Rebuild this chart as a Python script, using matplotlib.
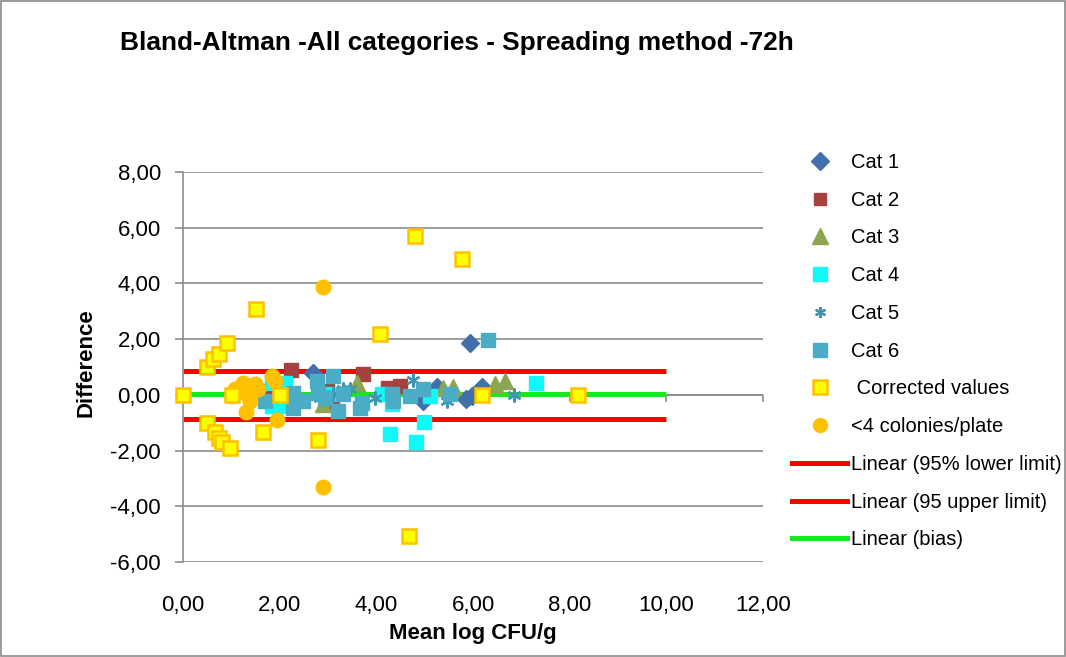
import matplotlib
matplotlib.use("Agg")
import matplotlib.pyplot as plt
import matplotlib.patches as patches
from matplotlib.lines import Line2D

plt.rcParams['font.family'] = ['Liberation Sans', 'DejaVu Sans']

# --- data ---
cat1_x = [2.69, 4.97, 5.26, 5.86, 5.98, 5.94, 6.19]
cat1_y = [0.79, -0.22, 0.29, -0.14, -0.04, 1.87, 0.29]

cat2_x = [1.74, 2.24, 2.98, 3.08, 3.73, 4.24, 4.49]
cat2_y = [0.14, 0.90, 0.14, -0.32, 0.76, 0.25, 0.32]

cat3_x = [2.90, 3.60, 5.38, 5.59, 6.46, 6.67]
cat3_y = [-0.32, 0.43, 0.25, 0.29, 0.40, 0.50]

cat4_x = [1.84, 2.11, 1.84, 2.11, 2.22, 3.11, 4.12, 4.33, 5.11, 4.29, 4.82, 4.99, 7.31]
cat4_y = [0.43, 0.43, -0.40, -0.40, -0.04, 0.04, 0.04, -0.32, -0.04, -1.40, -1.69, -0.97, 0.43]

cat5_x = [2.26, 2.84, 3.10, 3.31, 3.45, 3.98, 4.76, 5.47, 6.85]
cat5_y = [0.04, -0.10, 0.04, 0.22, 0.22, -0.11, 0.54, -0.22, 0.00]

cat6_x = [1.70, 2.28, 2.28, 2.48, 2.77, 2.80, 3.11, 2.94, 3.31, 3.21, 3.71, 3.66,
          4.33, 4.35, 4.70, 4.97, 5.53, 6.31]
cat6_y = [-0.22, 0.07, -0.47, -0.22, 0.50, 0.07, 0.68, -0.11, 0.04, -0.58, -0.29, -0.47,
          0.04, -0.22, -0.04, 0.22, 0.04, 1.98]

corr_x = [0.00, 0.50, 0.62, 0.75, 0.91, 1.51, 0.50, 0.66, 0.75, 0.81, 0.97, 1.01,
          1.65, 2.00, 2.80, 4.08, 4.80, 5.78, 4.68, 6.19, 8.18]
corr_y = [0.00, 1.00, 1.29, 1.47, 1.87, 3.09, -1.00, -1.33, -1.55, -1.69, -1.90, 0.00,
          -1.33, 0.00, -1.62, 2.19, 5.72, 4.86, -5.05, 0.00, 0.00]

col_x = [1.24, 1.08, 1.01, 1.49, 1.55, 1.28, 1.39, 1.30, 1.84, 1.90, 1.95, 2.90, 2.90]
col_y = [0.43, 0.22, -0.04, 0.40, 0.22, 0.07, -0.22, -0.61, 0.68, 0.50, -0.90, 3.88, -3.31]

limit_x = [0, 10]
lower_limit = [-0.86, -0.86]
upper_limit = [0.85, 0.85]
bias = [0.02, 0.02]

x_ticks = [0, 2, 4, 6, 8, 10, 12]
y_ticks = [-6, -4, -2, 0, 2, 4, 6, 8]

GREY = '#8c8c8c'

fig = plt.figure(figsize=(10.66, 6.57), dpi=100)
ax = fig.add_axes([183 / 1066, 1 - 562 / 657, 580 / 1066, 390 / 657])

# frame around the whole chart
fig.patches.append(patches.Rectangle((0.001, 0.001), 0.998, 0.997, transform=fig.transFigure,
                                     fill=False, edgecolor='#8a8a8a', linewidth=1.2))

# limit and bias lines
ax.plot(limit_x, lower_limit, color='#ff0000', lw=3.6, zorder=2, solid_capstyle='butt')
ax.plot(limit_x, upper_limit, color='#ff0000', lw=3.6, zorder=2, solid_capstyle='butt')
ax.plot(limit_x, bias, color='#1ee61e', lw=3.6, zorder=2, solid_capstyle='butt')

# horizontal axis through zero with its tick marks
ax.axhline(0, color=GREY, lw=1.2, zorder=1.5)
ax.plot(x_ticks, [0] * len(x_ticks), ls='none', marker=3, ms=5, mew=1.2, color=GREY,
        zorder=1.5, clip_on=False)

ax.plot(cat1_x, cat1_y, ls='none', marker='D', ms=9, color='#4270aa', zorder=3, clip_on=False)
ax.plot(cat2_x, cat2_y, ls='none', marker='s', ms=9.5, color='#a5423f', zorder=3, clip_on=False)
ax.plot(cat3_x, cat3_y, ls='none', marker='^', ms=12, color='#8ba552', zorder=3, clip_on=False)
ax.plot(cat4_x, cat4_y, ls='none', marker='s', ms=10, color='#11f8f8', zorder=3, clip_on=False)
ax.plot(cat5_x, cat5_y, ls='none', marker=(6, 2, 0), ms=10, mew=1.6, color='#3d94b3', zorder=3,
        clip_on=False)
ax.plot(cat6_x, cat6_y, ls='none', marker='s', ms=10, color='#4bacc6', zorder=3, clip_on=False)
ax.plot(col_x, col_y, ls='none', marker='o', ms=10.5, color='#ffc000', zorder=4, clip_on=False)
ax.plot(corr_x, corr_y, ls='none', marker='s', ms=10.5, mfc='#ffff00', mec='#ffc000',
        mew=1.8, zorder=5, clip_on=False)

ax.set_xlim(0, 12)
ax.set_ylim(-6, 8)
ax.set_xticks(x_ticks)
ax.set_yticks(y_ticks)
ax.set_xticklabels([f'{v:.2f}'.replace('.', ',') for v in x_ticks])
ax.set_yticklabels([f'{v:.2f}'.replace('.', ',') for v in y_ticks])
ax.tick_params(axis='x', length=0, pad=24, labelsize=16)
ax.tick_params(axis='y', length=6, width=1.2, color=GREY, pad=10, labelsize=16)
ax.yaxis.grid(True, color=GREY, lw=1.2)
ax.set_axisbelow(True)
for side in ['top', 'right', 'bottom']:
    ax.spines[side].set_visible(False)
ax.spines['left'].set_color(GREY)
ax.spines['left'].set_linewidth(1.2)

fig.text(120 / 1066, 1 - 43 / 657, 'Bland-Altman -All categories - Spreading method -72h',
         fontsize=18.9, fontweight='bold', ha='left', va='center')
fig.text(473 / 1066, 1 - 634 / 657, 'Mean log CFU/g', fontsize=16, fontweight='bold',
         ha='center', va='center')
fig.text(86 / 1066, 1 - 363 / 657, 'Difference', fontsize=16, fontweight='bold',
         ha='center', va='center', rotation=90)

handles = [
    Line2D([], [], ls='none', marker='D', ms=9, color='#4270aa'),
    Line2D([], [], ls='none', marker='s', ms=8.5, color='#a5423f'),
    Line2D([], [], ls='none', marker='^', ms=11, color='#8ba552'),
    Line2D([], [], ls='none', marker='s', ms=10, color='#11f8f8'),
    Line2D([], [], ls='none', marker=(6, 2, 0), ms=8, mew=1.6, color='#3d94b3'),
    Line2D([], [], ls='none', marker='s', ms=10, color='#4bacc6'),
    Line2D([], [], ls='none', marker='s', ms=10, mfc='#ffff00', mec='#ffc000', mew=1.8),
    Line2D([], [], ls='none', marker='o', ms=10, color='#ffc000'),
    Line2D([], [], color='#ff0000', lw=3.6),
    Line2D([], [], color='#ff0000', lw=3.6),
    Line2D([], [], color='#1ee61e', lw=3.6),
]
labels = ['Cat 1', 'Cat 2', 'Cat 3', 'Cat 4', 'Cat 5', 'Cat 6', ' Corrected values',
          '<4 colonies/plate', 'Linear (95% lower limit)', 'Linear (95 upper limit)',
          'Linear (bias)']
fig.legend(handles, labels, loc='upper left', bbox_to_anchor=(792 / 1066, 1 - 153 / 657),
           frameon=False, fontsize=14.5, handlelength=2.75, handletextpad=0.2,
           labelspacing=0.93, borderpad=0, borderaxespad=0)

fig.savefig('out.png', dpi=100)
